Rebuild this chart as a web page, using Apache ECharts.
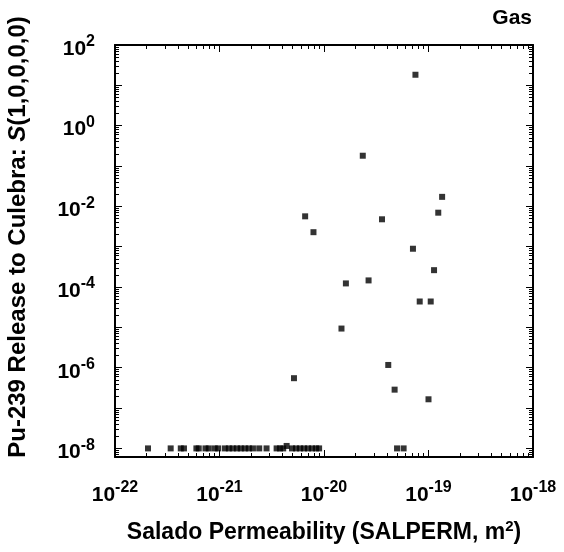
<!DOCTYPE html>
<html>
<head>
<meta charset="utf-8">
<script src="https://cdn.jsdelivr.net/npm/echarts@6/dist/echarts.min.js"></script>
<style>html,body{margin:0;padding:0;background:#fff}#c{width:564px;height:552px}</style>
</head>
<body>
<div id="c"></div>
<script>
// Salado permeability (m^2)
const permeability = [
  7.5e-20, 2.35e-20, 1.35e-19, 1.24e-19, 6.6e-21, 3.59e-20, 7.93e-21, 7.1e-20, 1.13e-19,
  2.67e-20, 1.62e-20, 8.24e-20, 1.05e-19, 1.47e-20, 4.12e-20, 5.16e-21, 4.74e-20, 1.0e-19,
  2.07e-22, 3.41e-22, 4.26e-22, 4.57e-22, 6.01e-22, 6.33e-22, 7.34e-22, 7.89e-22, 9.01e-22,
  9.7e-22, 1.125e-21, 1.23e-21, 1.34e-21, 1.47e-21, 1.6e-21, 1.75e-21, 1.91e-21, 2.09e-21,
  2.4e-21, 2.82e-21, 3.52e-21, 3.79e-21, 4.07e-21, 4.39e-21, 4.94e-21, 5.4e-21, 5.9e-21,
  6.44e-21, 7.03e-21, 7.69e-21, 8.4e-21, 8.98e-21, 5.0e-20, 5.78e-20
];
// Pu-239 release to Culebra
const release = [
  18.3, 0.18, 0.0172, 0.00697, 0.00566, 0.00478, 0.00229, 8.9e-4, 2.62e-4,
  1.46e-4, 1.23e-4, 4.38e-5, 4.38e-5, 9.35e-6, 1.17e-6, 5.5e-7, 2.86e-7, 1.65e-7,
  1e-8, 1e-8, 1e-8, 1e-8, 1e-8, 1e-8, 1e-8, 1e-8, 1e-8,
  1e-8, 1e-8, 1e-8, 1e-8, 1e-8, 1e-8, 1e-8, 1e-8, 1e-8,
  1e-8, 1e-8, 1e-8, 1e-8, 1e-8, 1.15e-8, 1e-8, 1e-8, 1e-8,
  1e-8, 1e-8, 1e-8, 1e-8, 1e-8, 1e-8, 1e-8
];
const xTickLabels = [1e-22, 1e-21, 1e-20, 1e-19, 1e-18];
const yTickLabels = [1e-8, 1e-6, 1e-4, 1e-2, 1, 1e2];
const yMajorTicks = [1e-8, 1e-7, 1e-6, 1e-5, 1e-4, 1e-3, 1e-2, 1e-1, 1, 10, 100];
const xMin = 1e-22, xMax = 1e-18, yMin = 6.12e-9, yMax = 100;

function minorTicks(d0, d1, lo, hi) {
  const out = [];
  for (let d = d0; d <= d1; d++) for (let m = 2; m <= 9; m++) {
    const v = m * Math.pow(10, d);
    if (v >= lo && v <= hi) out.push(v);
  }
  return out;
}
const xMinor = minorTicks(-22, -19, xMin, xMax);
const yMinor = minorTicks(-9, 1, yMin, yMax);

const FONT = 'Liberation Sans, Arial, Helvetica, sans-serif';
const supRich = {
  b: {fontSize: 21, fontWeight: 'bold', fontFamily: FONT, color: '#000', lineHeight: 30},
  s: {fontSize: 16, fontWeight: 'bold', fontFamily: FONT, color: '#000', lineHeight: 14, verticalAlign: 'top'}
};
function expLabel(v) {
  const e = Math.round(Math.log10(v));
  return '{b|10}{s|' + e + '}';
}
const lineStyle = {color: '#000', width: 2};

function axisBase(extra) {
  return Object.assign({
    type: 'log', logBase: 10, gridIndex: 0,
    splitLine: {show: false}, minorTick: {show: false}, minorSplitLine: {show: false},
    axisLine: {show: false, onZero: false, lineStyle: lineStyle},
    axisLabel: {show: false},
    silent: true
  }, extra);
}

const xAxes = [
  axisBase({min: xMin, max: xMax, position: 'bottom',
    axisLine: {show: true, onZero: false, lineStyle: lineStyle},
    axisTick: {show: true, inside: true, length: 7, lineStyle: {color: '#000', width: 1}, customValues: xTickLabels},
    axisLabel: {show: true, margin: 23, customValues: xTickLabels, formatter: expLabel, rich: supRich},
    name: 'Salado Permeability (SALPERM, m{sup|2})', nameLocation: 'middle', nameGap: 62,
    nameTextStyle: {fontSize: 23, fontWeight: 'bold', fontFamily: FONT, color: '#000', lineHeight: 28,
      rich: {sup: {fontSize: 15, fontWeight: 'bold', fontFamily: FONT, color: '#000', lineHeight: 14, verticalAlign: 'top'}}}
  }),
  axisBase({min: xMin, max: xMax, position: 'bottom',
    axisTick: {show: true, inside: true, length: 4, lineStyle: {color: '#000', width: 1}, customValues: xMinor}}),
  axisBase({min: xMin, max: xMax, position: 'top',
    axisLine: {show: true, onZero: false, lineStyle: lineStyle},
    axisTick: {show: true, inside: true, length: 7, lineStyle: {color: '#000', width: 1}, customValues: xTickLabels}}),
  axisBase({min: xMin, max: xMax, position: 'top',
    axisTick: {show: true, inside: true, length: 4, lineStyle: {color: '#000', width: 1}, customValues: xMinor}})
];
const yAxes = [
  axisBase({min: yMin, max: yMax, position: 'left',
    axisLine: {show: true, onZero: false, lineStyle: lineStyle},
    axisTick: {show: true, inside: true, length: 7, lineStyle: {color: '#000', width: 1}, customValues: yMajorTicks},
    axisLabel: {show: true, margin: 20, padding: [8, 0, 0, 0], customValues: yTickLabels, formatter: expLabel, rich: supRich}
  }),
  axisBase({min: yMin, max: yMax, position: 'left',
    axisTick: {show: true, inside: true, length: 4, lineStyle: {color: '#000', width: 1}, customValues: yMinor}}),
  axisBase({min: yMin, max: yMax, position: 'right',
    axisLine: {show: true, onZero: false, lineStyle: lineStyle},
    axisTick: {show: true, inside: true, length: 7, lineStyle: {color: '#000', width: 1}, customValues: yMajorTicks}}),
  axisBase({min: yMin, max: yMax, position: 'right',
    axisTick: {show: true, inside: true, length: 4, lineStyle: {color: '#000', width: 1}, customValues: yMinor}})
];

const chart = echarts.init(document.getElementById('c'), null, {renderer: 'canvas'});
chart.setOption({
  animation: false,
  backgroundColor: '#fff',
  grid: {left: 115, right: 31, top: 45, bottom: 90, containLabel: false},
  xAxis: xAxes,
  yAxis: yAxes,
  graphic: [
    {type: 'text', x: 532, y: 8,
      style: {text: 'Gas', font: 'bold 21px ' + FONT, fill: '#000', align: 'right', textAlign: 'right', verticalAlign: 'top', textVerticalAlign: 'top'}},
    {type: 'text', x: 18, y: 237, rotation: Math.PI / 2,
      style: {
        text: '{n|Pu-239 Release to Culebra: }{i|S}{n|(1,0,0,0,0)}',
        align: 'center', textAlign: 'center', verticalAlign: 'middle', textVerticalAlign: 'middle',
        fill: '#000', font: 'bold 24px ' + FONT,
        rich: {
          n: {fontSize: 24, fontWeight: 'bold', fontFamily: FONT, color: '#000'},
          i: {fontSize: 24, fontWeight: 'bold', fontStyle: 'italic', fontFamily: FONT, color: '#000'}
        }
      }}
  ],
  series: [{
    type: 'scatter', xAxisIndex: 0, yAxisIndex: 0,
    symbol: 'rect', symbolSize: 6,
    itemStyle: {color: '#000'},
    data: permeability.map((x, i) => [x, release[i]])
  }]
});
</script>
</body>
</html>
